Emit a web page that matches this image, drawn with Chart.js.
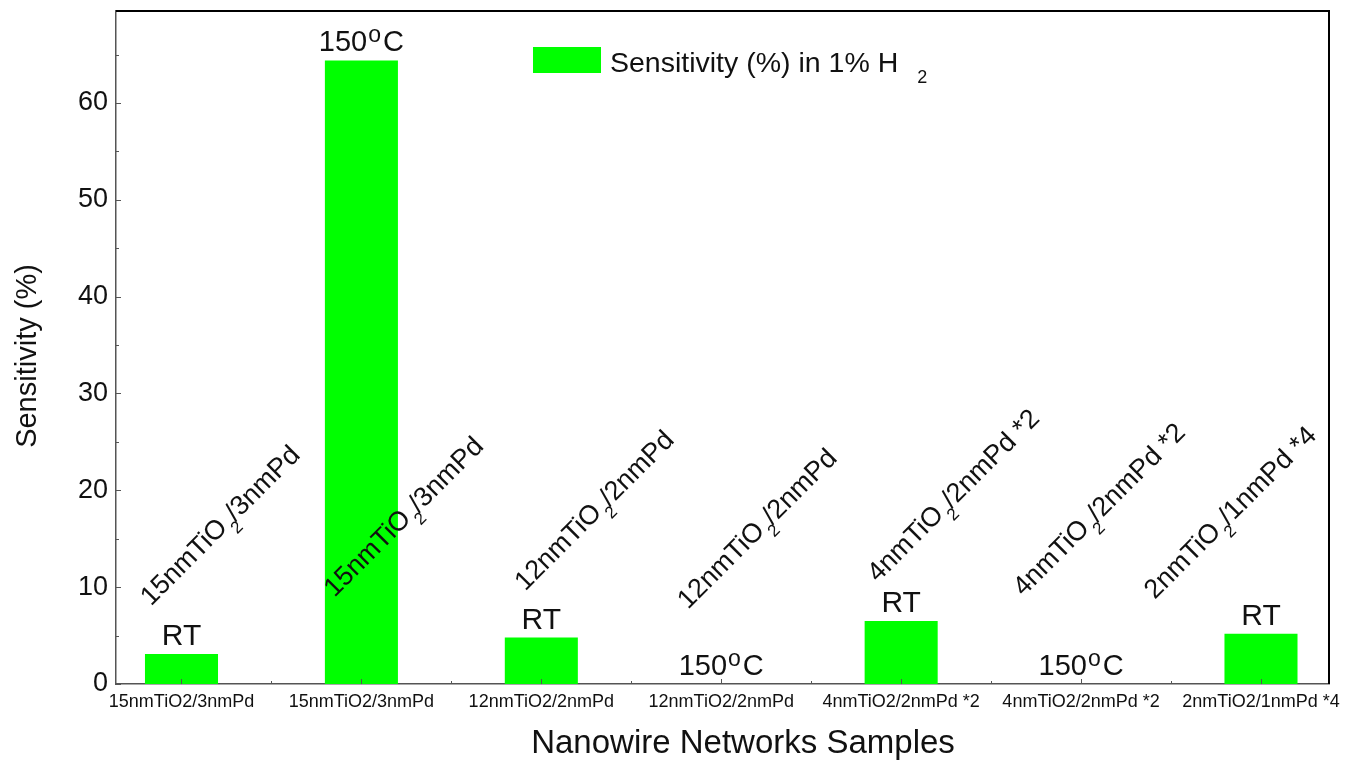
<!DOCTYPE html>
<html>
<head>
<meta charset="utf-8">
<title>Sensitivity of nanowire networks in 1% H2</title>
<script src="https://cdn.jsdelivr.net/npm/chart.js@4.4.1/dist/chart.umd.min.js"></script>
<style>
  html, body { margin: 0; padding: 0; background: #ffffff; }
  #c { display: block; }
</style>
</head>
<body>
<canvas id="c" width="1348" height="761"></canvas>
<script>
// ---- data ----
const samples = ['15nmTiO2/3nmPd', '15nmTiO2/3nmPd', '12nmTiO2/2nmPd', '12nmTiO2/2nmPd',
                 '4nmTiO2/2nmPd *2', '4nmTiO2/2nmPd *2', '2nmTiO2/1nmPd *4'];
const sensitivity = [3.1, 64.4, 4.8, 0, 6.5, 0, 5.2];
const conditions = ['RT', '150', 'RT', '150', 'RT', '150', 'RT'];
const yTicks = [0, 10, 20, 30, 40, 50, 60];

// slanted sample notes: text before the subscript 2, text after it,
// and the anchor of each note in axis units
const notePre  = ['15nmTiO', '15nmTiO', '12nmTiO', '12nmTiO', '4nmTiO', '4nmTiO', '2nmTiO'];
const notePost = ['/3nmPd', '/3nmPd', '/2nmPd', '/2nmPd', '/2nmPd *2', '/2nmPd *2', '/1nmPd *4'];
const noteX = [-0.17, 0.85, 1.91, 2.815, 3.87, 4.68, 5.41];
const noteY = [7.98, 8.88, 9.53, 7.64, 10.43, 8.98, 8.67];

const legendMain = 'Sensitivity (%) in 1% H';
const legendSub = '2';

const FONT = "'Liberation Sans', Arial, Helvetica, sans-serif";
const INK = '#111111';
const GREEN = '#00ff00';

// draws the frame, inward ticks, bar notes, legend and axis titles
const decor = {
  id: 'decor',
  afterDatasetsDraw(chart) {
    const { ctx, scales: { x, y } } = chart;
    ctx.save();
    ctx.fillStyle = INK;

    // temperature notes above each bar
    const meta = chart.getDatasetMeta(0);
    meta.data.forEach((bar, i) => {
      const cx = bar.x;
      const base = bar.y - 9;
      ctx.textBaseline = 'alphabetic';
      if (conditions[i] === 'RT') {
        ctx.font = `30px ${FONT}`;
        ctx.textAlign = 'center';
        ctx.fillText('RT', cx, base);
      } else {
        ctx.textAlign = 'left';
        ctx.font = `29px ${FONT}`;
        const w1 = ctx.measureText(conditions[i]).width;
        const w3 = ctx.measureText('C').width;
        ctx.font = `23px ${FONT}`;
        const w2 = ctx.measureText('o').width;
        const sx = cx - (w1 + w2 + w3 + 3) / 2;
        ctx.font = `29px ${FONT}`;
        ctx.fillText(conditions[i], sx, base);
        ctx.font = `23px ${FONT}`;
        ctx.fillText('o', sx + w1 + 1, base - 9);
        ctx.font = `29px ${FONT}`;
        ctx.fillText('C', sx + w1 + w2 + 3, base);
      }
    });

    // slanted sample notes with subscript 2
    notePre.forEach((pre, i) => {
      const px = x.getPixelForValue(noteX[i]);
      const py = y.getPixelForValue(noteY[i]);
      ctx.save();
      ctx.translate(px, py);
      ctx.rotate(-Math.PI / 4);
      ctx.textAlign = 'left';
      ctx.textBaseline = 'alphabetic';
      ctx.font = `27px ${FONT}`;
      ctx.fillText(pre, 0, 0);
      const w = ctx.measureText(pre).width;
      ctx.font = `17px ${FONT}`;
      ctx.fillText('2', w + 2, 10);
      const ws = ctx.measureText('2').width;
      ctx.font = `27px ${FONT}`;
      ctx.fillText(notePost[i], w + ws * 0.8 + 2, 0);
      ctx.restore();
    });
    ctx.restore();
  },
  afterDraw(chart) {
    const { ctx, chartArea: a, scales: { x, y } } = chart;
    ctx.save();

    // top and right frame lines
    ctx.strokeStyle = '#000000';
    ctx.lineWidth = 2;
    ctx.beginPath();
    ctx.moveTo(a.left, a.top);
    ctx.lineTo(a.right, a.top);
    ctx.lineTo(a.right, a.bottom);
    ctx.stroke();

    // inward tick marks
    ctx.strokeStyle = '#555555';
    ctx.lineWidth = 1;
    ctx.beginPath();
    for (let v = 0; v < y.max; v += 5) {
      const py = Math.round(y.getPixelForValue(v)) + 0.5;
      const len = v % 10 === 0 ? 5 : 3;
      ctx.moveTo(a.left, py);
      ctx.lineTo(a.left + len, py);
    }
    for (let v = 0; v <= samples.length - 0.5; v += 0.5) {
      const px = Math.round(x.getPixelForValue(v)) + 0.5;
      const len = Number.isInteger(v) ? 5 : 3;
      ctx.moveTo(px, a.bottom);
      ctx.lineTo(px, a.bottom - len);
    }
    ctx.stroke();

    // legend
    const ds = chart.data.datasets[0];
    const bx = a.left + 417, by = a.top + 36;
    ctx.fillStyle = ds.backgroundColor;
    ctx.fillRect(bx, by, 68, 26);
    ctx.fillStyle = INK;
    ctx.textAlign = 'left';
    ctx.textBaseline = 'alphabetic';
    ctx.font = `28.5px ${FONT}`;
    ctx.fillText(legendMain, bx + 77, by + 25);
    const lw = ctx.measureText(legendMain).width;
    ctx.font = `18px ${FONT}`;
    ctx.fillText(legendSub, bx + 77 + lw + 19, by + 36);

    // axis titles
    ctx.font = `33px ${FONT}`;
    ctx.textAlign = 'center';
    ctx.fillText('Nanowire Networks Samples', 743, 753);
    ctx.save();
    ctx.translate(36, 356);
    ctx.rotate(-Math.PI / 2);
    ctx.font = `29px ${FONT}`;
    ctx.fillText('Sensitivity (%)', 0, 0);
    ctx.restore();

    ctx.restore();
  }
};

new Chart(document.getElementById('c'), {
  type: 'bar',
  data: {
    datasets: [{
      label: 'Sensitivity (%) in 1% H\u2082',
      data: sensitivity.map((v, i) => ({ x: i, y: v })),
      backgroundColor: GREEN,
      borderWidth: 0,
      barPercentage: 0.406,
      categoryPercentage: 1.0
    }]
  },
  options: {
    responsive: false,
    animation: false,
    layout: { padding: { top: 11, right: 19, left: 0, bottom: 0 } },
    plugins: {
      legend: { display: false },
      tooltip: { enabled: false }
    },
    scales: {
      x: {
        type: 'linear',
        offset: false,
        min: -0.364,
        max: 6.378,
        grid: { display: false, drawTicks: false, offset: false },
        border: { display: true, color: '#555555', width: 1.5 },
        afterBuildTicks: (s) => { s.ticks = samples.map((_, i) => ({ value: i })); },
        afterFit: (s) => { s.height = 77; s.paddingLeft = 0; s.paddingRight = 0; },
        ticks: {
          autoSkip: false,
          maxRotation: 0,
          minRotation: 0,
          padding: 7,
          color: INK,
          font: { family: FONT, size: 18 },
          callback: (v) => samples[Math.round(v)]
        }
      },
      y: {
        type: 'linear',
        min: 0,
        max: 69.5,
        grid: { display: false, drawTicks: false },
        border: { display: true, color: '#555555', width: 1.5 },
        afterBuildTicks: (s) => { s.ticks = yTicks.map(v => ({ value: v })); },
        afterFit: (s) => { s.width = 116; s.paddingTop = 0; s.paddingBottom = 0; },
        ticks: {
          padding: 8,
          color: INK,
          font: { family: FONT, size: 27 }
        }
      }
    }
  },
  plugins: [decor]
});
</script>
</body>
</html>
